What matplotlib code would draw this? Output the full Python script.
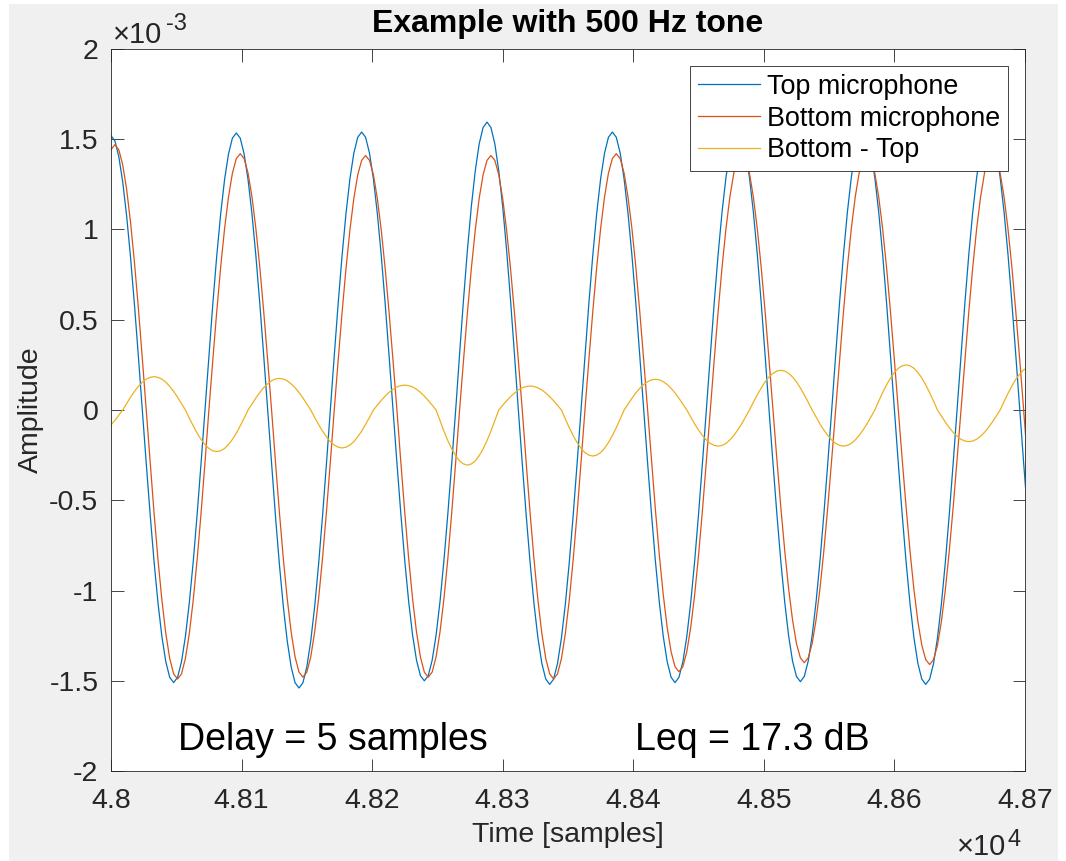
import numpy as np
import matplotlib
matplotlib.use("Agg")
import matplotlib.pyplot as plt
from matplotlib.patches import Rectangle
from matplotlib.ticker import FuncFormatter, MultipleLocator

# every 3rd sample of the recording (48 kHz, 500 Hz tone -> 96 samples per period)
samples = np.arange(48000, 48703, 3)

# amplitudes in units of 1e-3 (one line = one period)
top_mic = [
    1.52, 1.491, 1.404, 1.263, 1.075, 0.845, 0.582, 0.296, 0, -0.294, -0.578, -0.840, -1.068, -1.255, -1.395, -1.481,
    -1.51, -1.481, -1.395, -1.255, -1.068, -0.840, -0.578, -0.294, 0, 0.299, 0.588, 0.853, 1.085, 1.276, 1.418, 1.506,
    1.535, 1.506, 1.418, 1.276, 1.085, 0.853, 0.588, 0.299, 0, -0.300, -0.590, -0.856, -1.089, -1.280, -1.423, -1.511,
    -1.54, -1.511, -1.423, -1.280, -1.089, -0.856, -0.590, -0.300, 0, 0.300, 0.590, 0.856, 1.089, 1.280, 1.423, 1.511,
    1.54, 1.511, 1.423, 1.280, 1.089, 0.856, 0.590, 0.300, 0, -0.293, -0.575, -0.834, -1.061, -1.247, -1.386, -1.472,
    -1.50, -1.472, -1.386, -1.247, -1.061, -0.834, -0.575, -0.293, 0, 0.311, 0.611, 0.887, 1.128, 1.325, 1.474, 1.565,
    1.595, 1.565, 1.474, 1.325, 1.128, 0.887, 0.611, 0.311, 0, -0.296, -0.582, -0.845, -1.075, -1.263, -1.404, -1.491,
    -1.52, -1.491, -1.404, -1.263, -1.075, -0.845, -0.582, -0.296, 0, 0.300, 0.590, 0.856, 1.089, 1.280, 1.423, 1.511,
    1.54, 1.511, 1.423, 1.280, 1.089, 0.856, 0.590, 0.300, 0, -0.294, -0.578, -0.840, -1.068, -1.255, -1.395, -1.481,
    -1.51, -1.481, -1.395, -1.255, -1.068, -0.840, -0.578, -0.294, 0, 0.302, 0.594, 0.862, 1.096, 1.288, 1.432, 1.521,
    1.55, 1.521, 1.432, 1.288, 1.096, 0.862, 0.594, 0.302, 0, -0.293, -0.576, -0.837, -1.064, -1.251, -1.391, -1.476,
    -1.505, -1.476, -1.391, -1.251, -1.064, -0.837, -0.576, -0.293, 0, 0.302, 0.594, 0.862, 1.096, 1.288, 1.432, 1.521,
    1.55, 1.521, 1.432, 1.288, 1.096, 0.862, 0.594, 0.302, 0, -0.296, -0.582, -0.845, -1.075, -1.263, -1.404, -1.491,
    -1.52, -1.491, -1.404, -1.263, -1.075, -0.845, -0.582, -0.296, 0, 0.302, 0.594, 0.862, 1.096, 1.288, 1.432, 1.521,
    1.55, 1.521, 1.432, 1.288, 1.096, 0.862, 0.594, 0.302, 0, -0.294, -0.578]

bottom_mic = [
    1.442,
    1.47, 1.442, 1.358, 1.222, 1.039, 0.817, 0.563, 0.287, 0, -0.291, -0.571, -0.828, -1.053, -1.238, -1.377, -1.462,
    -1.49, -1.462, -1.377, -1.238, -1.053, -0.828, -0.571, -0.291, 0, 0.277, 0.544, 0.790, 1.004, 1.180, 1.312, 1.393,
    1.42, 1.393, 1.312, 1.180, 1.004, 0.790, 0.544, 0.277, 0, -0.289, -0.567, -0.823, -1.046, -1.230, -1.368, -1.452,
    -1.48, -1.452, -1.368, -1.230, -1.046, -0.823, -0.567, -0.289, 0, 0.275, 0.540, 0.784, 0.997, 1.172, 1.303, 1.383,
    1.41, 1.383, 1.303, 1.172, 0.997, 0.784, 0.540, 0.275, 0, -0.289, -0.567, -0.823, -1.046, -1.230, -1.368, -1.452,
    -1.48, -1.452, -1.368, -1.230, -1.046, -0.823, -0.567, -0.289, 0, 0.275, 0.540, 0.784, 0.997, 1.172, 1.303, 1.383,
    1.41, 1.383, 1.303, 1.172, 0.997, 0.784, 0.540, 0.275, 0, -0.291, -0.571, -0.828, -1.053, -1.238, -1.377, -1.462,
    -1.49, -1.462, -1.377, -1.238, -1.053, -0.828, -0.571, -0.291, 0, 0.277, 0.544, 0.790, 1.004, 1.180, 1.312, 1.393,
    1.42, 1.393, 1.312, 1.180, 1.004, 0.790, 0.544, 0.277, 0, -0.283, -0.555, -0.806, -1.025, -1.205, -1.340, -1.422,
    -1.45, -1.422, -1.340, -1.205, -1.025, -0.806, -0.555, -0.283, 0, 0.277, 0.544, 0.790, 1.004, 1.180, 1.312, 1.393,
    1.42, 1.393, 1.312, 1.180, 1.004, 0.790, 0.544, 0.277, 0, -0.273, -0.536, -0.778, -0.990, -1.163, -1.294, -1.373,
    -1.40, -1.373, -1.294, -1.163, -0.990, -0.778, -0.536, -0.273, 0, 0.277, 0.544, 0.790, 1.004, 1.180, 1.312, 1.393,
    1.42, 1.393, 1.312, 1.180, 1.004, 0.790, 0.544, 0.277, 0, -0.275, -0.540, -0.784, -0.997, -1.172, -1.303, -1.383,
    -1.41, -1.383, -1.303, -1.172, -0.997, -0.784, -0.540, -0.275, 0, 0.277, 0.544, 0.790, 1.004, 1.180, 1.312, 1.393,
    1.42, 1.393, 1.312, 1.180, 1.004, 0.790, 0.544, 0.277, 0, -0.289]

difference = [
    -0.083, -0.057, -0.029, 0, 0.036, 0.071, 0.103, 0.131, 0.154, 0.171, 0.181,
    0.185, 0.181, 0.171, 0.154, 0.131, 0.103, 0.071, 0.036, 0, -0.045, -0.088, -0.128, -0.163, -0.191, -0.213, -0.226,
    -0.23, -0.226, -0.213, -0.191, -0.163, -0.128, -0.088, -0.045, 0, 0.034, 0.067, 0.097, 0.124, 0.145, 0.162, 0.172,
    0.175, 0.172, 0.162, 0.145, 0.124, 0.097, 0.067, 0.034, 0, -0.041, -0.080, -0.117, -0.148, -0.175, -0.194, -0.206,
    -0.21, -0.206, -0.194, -0.175, -0.148, -0.117, -0.080, -0.041, 0, 0.027, 0.053, 0.077, 0.098, 0.115, 0.128, 0.135,
    0.138, 0.135, 0.128, 0.115, 0.098, 0.077, 0.053, 0.027, 0, -0.059, -0.117, -0.170, -0.216, -0.253, -0.282, -0.299,
    -0.305, -0.299, -0.282, -0.253, -0.216, -0.170, -0.117, -0.059, 0, 0.026, 0.051, 0.074, 0.094, 0.111, 0.123, 0.130,
    0.133, 0.130, 0.123, 0.111, 0.094, 0.074, 0.051, 0.026, 0, -0.050, -0.098, -0.142, -0.180, -0.212, -0.236, -0.250,
    -0.255, -0.250, -0.236, -0.212, -0.180, -0.142, -0.098, -0.050, 0, 0.033, 0.065, 0.095, 0.120, 0.141, 0.157, 0.167,
    0.17, 0.167, 0.157, 0.141, 0.120, 0.095, 0.065, 0.033, 0, -0.039, -0.077, -0.111, -0.141, -0.166, -0.185, -0.196,
    -0.20, -0.196, -0.185, -0.166, -0.141, -0.111, -0.077, -0.039, 0, 0.043, 0.084, 0.122, 0.156, 0.183, 0.203, 0.216,
    0.22, 0.216, 0.203, 0.183, 0.156, 0.122, 0.084, 0.043, 0, -0.039, -0.077, -0.111, -0.141, -0.166, -0.185, -0.196,
    -0.20, -0.196, -0.185, -0.166, -0.141, -0.111, -0.077, -0.039, 0, 0.049, 0.096, 0.139, 0.177, 0.208, 0.231, 0.245,
    0.25, 0.245, 0.231, 0.208, 0.177, 0.139, 0.096, 0.049, 0, -0.034, -0.067, -0.097, -0.124, -0.145, -0.162, -0.172,
    -0.175, -0.172, -0.162, -0.145, -0.124, -0.097, -0.067, -0.034, 0, 0.047, 0.092, 0.133, 0.170, 0.199, 0.222, 0.235]

labels = ["Top microphone", "Bottom microphone", "Bottom - Top"]
delay_samples = 5
leq_db = 17.3

plt.rcParams["font.family"] = "Liberation Sans"
plt.rcParams["axes.unicode_minus"] = False

fig = plt.figure(figsize=(10.66, 8.61), dpi=100, facecolor="white")
fig.patches.append(Rectangle((9 / 1066, 0), 1049 / 1066, 857 / 861, transform=fig.transFigure,
                             facecolor="#f0f0f0", edgecolor="none", zorder=-10))
ax = fig.add_axes([0.1041, 0.1045, 0.8574, 0.8386])

scale = 1e-3
ax.plot(samples, np.array(top_mic) * scale, color="#0072BD", lw=0.9, label=labels[0])
ax.plot(samples, np.array(bottom_mic) * scale, color="#D95319", lw=0.9, label=labels[1])
ax.plot(samples, np.array(difference) * scale, color="#EDB120", lw=0.9, label=labels[2])

ax.set_xlim(48000, 48700)
ax.set_ylim(-2e-3, 2e-3)
ax.xaxis.set_major_locator(MultipleLocator(100))
ax.yaxis.set_major_locator(MultipleLocator(0.5e-3))
ax.xaxis.set_major_formatter(FuncFormatter(lambda v, p: f"{round(v / 1e4, 4):g}"))
ax.yaxis.set_major_formatter(FuncFormatter(lambda v, p: f"{round(v / scale, 3):g}"))

ax.tick_params(direction="in", top=True, right=True, length=9, width=0.6,
               color="#262626", labelcolor="#262626", labelsize=20.5)
ax.tick_params(axis="x", pad=12)
ax.tick_params(axis="y", pad=9)
for s in ax.spines.values():
    s.set_color("#262626")
    s.set_linewidth(0.6)

ax.set_title("Example with 500 Hz tone", fontsize=23, fontweight="bold", pad=12)
ax.set_xlabel("Time [samples]", fontsize=20.5, color="#262626", labelpad=6)
ax.set_ylabel("Amplitude", fontsize=20.5, color="#262626", labelpad=4)

# axis multipliers, drawn like MATLAB's exponent labels
fig.text(113 / 1066, 1 - 43 / 861, "×10", fontsize=21, color="#262626", va="baseline")
fig.text(166 / 1066, 1 - 30 / 861, "-3", fontsize=17, color="#262626", va="baseline")
fig.text(957 / 1066, 1 - 855 / 861, "×10", fontsize=21, color="#262626", va="baseline")
fig.text(1008 / 1066, 1 - 846 / 861, "4", fontsize=17, color="#262626", va="baseline")

ax.text(48051, -1.885e-3, f"Delay = {delay_samples} samples", fontsize=27, va="baseline")
ax.text(48401, -1.885e-3, f"Leq = {leq_db} dB", fontsize=27, va="baseline")

leg = ax.legend(loc="upper right", bbox_to_anchor=(0.9814, 0.9764), borderaxespad=0,
                fontsize=19.4, fancybox=False, framealpha=1, edgecolor="#262626",
                handlelength=2.3, handletextpad=0.27, labelspacing=0.22, borderpad=0.28)
leg.get_frame().set_linewidth(0.6)

plt.savefig("out.png", dpi=100, facecolor=fig.get_facecolor())
